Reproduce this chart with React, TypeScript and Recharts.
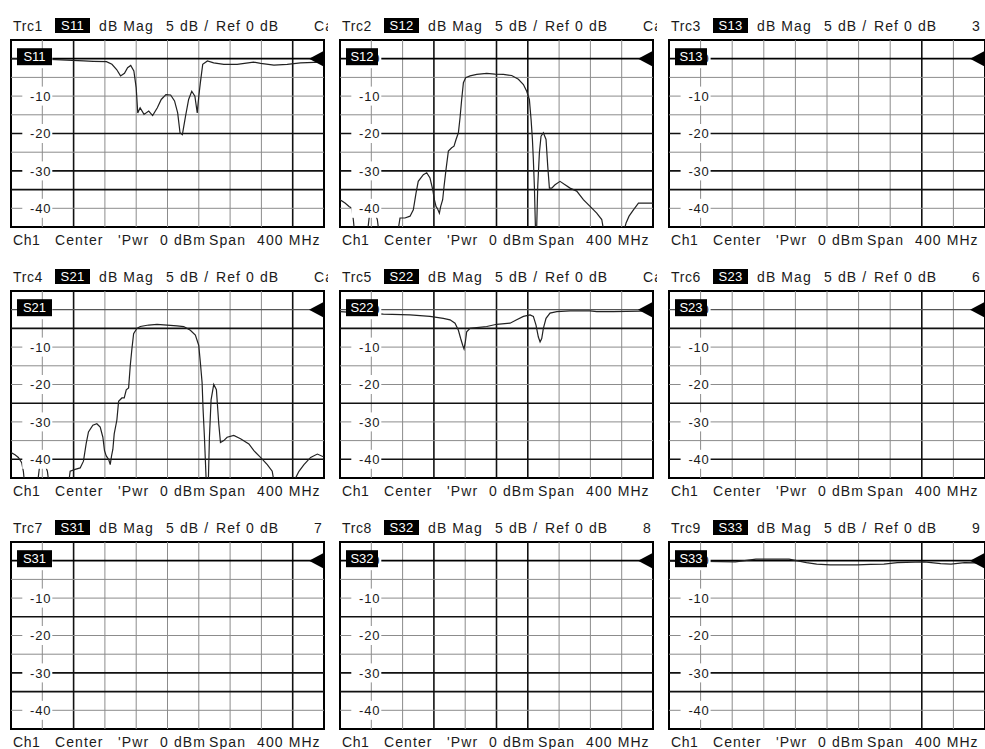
import React from 'react';
import { LineChart, Line, XAxis, YAxis, ReferenceLine, ReferenceDot, ReferenceArea } from 'recharts';

// --- data -------------------------------------------------------------
// frequency offset within the 400 MHz span, and magnitude in dB

const freqTicks = [0, 40, 80, 120, 160, 200, 240, 280, 320, 360, 400];
const dbTicks = [5, 0, -5, -10, -15, -20, -25, -30, -35, -40, -45];
const dbLabels = [0, -10, -20, -30, -40];

const traceNames = ['Trc1', 'Trc2', 'Trc3', 'Trc4', 'Trc5', 'Trc6', 'Trc7', 'Trc8', 'Trc9'];
const paramNames = ['S11', 'S12', 'S13', 'S21', 'S22', 'S23', 'S31', 'S32', 'S33'];
const titleTails = ['Cal', 'Cal', '3', 'Cal', 'Cal', '6', '7', '8', '9'];

const s11Freq = [0, 50, 71, 93, 105, 122, 129, 135, 140, 145, 149, 153, 157, 160, 162, 165, 170, 176, 181, 187, 192, 198, 204, 209, 213, 216, 219, 223, 227, 231, 235, 238, 240, 242, 245, 251, 259, 272, 289, 310, 319, 336, 353, 370, 396, 400];
const s11Db = [0, -0.2, -0.4, -0.6, -0.7, -0.8, -1.5, -2.9, -4.6, -3.9, -2.4, -1.8, -3.3, -7.8, -14.5, -13.1, -14.9, -14, -15.2, -13.1, -10.9, -9.6, -9.7, -11.3, -14.5, -19.8, -20.3, -15.4, -10.9, -8.7, -10, -14.5, -10, -6.4, -1.5, -0.6, -1.1, -1.5, -1.5, -0.9, -1.25, -1.7, -1.5, -1.1, -0.9, -0.8];

const s12Freq = [0, 6.4, 11.9, 14.9, 17, 18.7, 25.6, 35, 37.5, 40.5, 44.7, 47.7, 49.9, 60, 73.7, 76.7, 83, 89.5, 93.7, 97.2, 100, 106.5, 110.8, 115, 118.5, 120.6, 122.7, 124.8, 127, 128.7, 131.2, 133, 135.5, 138.5, 142.7, 145.7, 148.3, 151.3, 153.4, 155.5, 157.7, 160.6, 166.2, 174.7, 187.5, 198, 208.8, 219.4, 228, 234.4, 238.6, 242, 244.2, 245.9, 247.1, 248.4, 249.7, 250.5, 251.4, 252.7, 254.8, 256.9, 259.9, 263.3, 265.5, 267.6, 270.6, 274.8, 281.2, 287.6, 294, 302.5, 311, 319.6, 328.1, 334.5, 337.5, 349, 362.2, 365.6, 369.4, 375, 381.4, 400];
const s12Db = [-37.7, -38.6, -39.6, -39.9, -43, -46.6, -50, -46.6, -42.1, -40.8, -41.3, -43, -46.6, -50, -46.6, -42.6, -42.6, -42.1, -40.4, -35.9, -32.8, -31, -30.5, -31.9, -35, -37.7, -39.5, -40.2, -41.3, -39.5, -37.7, -34.1, -29.6, -24.7, -23.8, -23.4, -21.6, -19.8, -15.8, -10.9, -6.4, -5.1, -4.6, -4.2, -3.9, -4.1, -4.2, -4.5, -5.5, -6.9, -8.7, -10.9, -16.3, -21.6, -27, -34.1, -44.8, -46.6, -44.8, -34.1, -25.2, -20.7, -19.8, -21.6, -28.8, -34.6, -34.6, -33.7, -32.8, -33.7, -34.6, -35.4, -37.7, -39.5, -41.3, -43, -46.6, -50, -46.6, -43.9, -42.1, -40.4, -38.6, -38.6];

const s21Freq = [0, 5.1, 9.4, 13.7, 15.8, 17.5, 24.3, 33.7, 36.3, 39.3, 43.5, 46.5, 48.7, 58.5, 73.4, 75.6, 82, 88.4, 92.6, 96, 99, 104.6, 109.7, 114, 117.4, 119.5, 121.7, 124.7, 126.8, 128.5, 130.2, 131.9, 135.3, 137.5, 141.7, 144.7, 147.3, 150.3, 152.4, 154.5, 156.7, 160.9, 165.2, 175.9, 186.6, 199.4, 212.2, 220.7, 229.2, 235.6, 239.9, 242, 244.2, 245.5, 247.2, 249.3, 250.6, 252.3, 253.6, 255.7, 259.1, 262.5, 265.5, 267.7, 271.9, 276.2, 284.7, 293.3, 304, 310.4, 318.9, 327.5, 333.8, 336.8, 348.8, 361.6, 363.7, 368, 374.4, 382.9, 391.5, 400];
const s21Db = [-38.2, -38.8, -39.5, -40.9, -43.2, -46.8, -50, -46.8, -42.3, -40.9, -41.5, -43.2, -46.8, -50, -46.8, -43.2, -42.7, -42.3, -40.5, -35.9, -32.7, -30.9, -30.5, -31.4, -34.1, -37.7, -39.1, -40, -41.4, -39.1, -37.3, -33.2, -29.5, -24.5, -23.6, -23.6, -21.4, -20.9, -15, -10.5, -6.4, -5, -4.5, -4.1, -3.9, -4.1, -4.3, -4.5, -5.5, -6.8, -9.5, -14.1, -19.5, -26.8, -34.1, -45, -46.8, -45, -34.1, -24.1, -20, -21.4, -30.5, -35.5, -35, -34.1, -33.6, -34.5, -35.9, -37.7, -39.5, -41.4, -43.2, -46.8, -50, -46.8, -45, -43.2, -41.4, -39.5, -38.6, -39.4];

const s22Freq = [0, 29.8, 55.4, 89.5, 115, 132, 140.6, 147, 151.3, 154.2, 156.8, 158.5, 160.2, 161.9, 166.2, 174.7, 187.5, 200.3, 217.3, 225.8, 234.4, 242.9, 247.1, 250.5, 253.5, 255.7, 257.8, 259.9, 263.3, 268.4, 277, 294, 319.6, 328.1, 349.4, 400];
const s22Db = [-0.5, -0.9, -1.2, -1.4, -1.8, -2.3, -2.7, -3.6, -5.5, -7.7, -9.5, -10.5, -8.6, -5.9, -5, -4.8, -4.5, -3.9, -3.6, -2.7, -1.8, -1.4, -1.8, -4.1, -7.3, -8.6, -7.7, -5, -2.3, -0.9, -0.5, -0.3, -0.3, -0.5, -0.5, -0.3];

const s33Freq = [0, 46, 84, 110, 152, 174, 187, 204, 238, 255, 272, 289, 323, 344, 357, 374, 395, 400];
const s33Db = [-0.1, -0.2, -0.3, 0.4, 0.4, -0.5, -0.9, -1.1, -1.1, -1, -0.9, -0.5, -0.3, -0.8, -0.9, -0.5, -0.6, -0.6];

type Pt = { f: number; db?: number };
const zip = (fs: number[], ds: number[]): Pt[] => fs.map((f, i) => ({ f, db: ds[i] }));

const traces: Record<string, Pt[]> = {
  S11: zip(s11Freq, s11Db),
  S12: zip(s12Freq, s12Db),
  S21: zip(s21Freq, s21Db),
  S22: zip(s22Freq, s22Db),
  S33: zip(s33Freq, s33Db),
};

// panels without a trace still need rows for the chart to lay out
const emptyRows: Pt[] = freqTicks.map((f) => ({ f }));

// --- layout -----------------------------------------------------------

const FONT = '"Liberation Sans", Arial, Helvetica, sans-serif';
const COL_X = [11, 340, 669];
const ROW_Y = [40, 291, 542];
const COL_W = [313, 313, 316];
const PLOT_H = 187;
const PAD = 2;
const GRID = '#8c8c8c';
const INK = '#111';

// grid lines that come out heavier on the screen dump
const darkCols = [[2, 9], [3, 5, 6], [8]];
const darkRows = [[-20, -30, -35], [-5, -25, -40], [-15, -30, -35]];
const refHeavy = [true, false, true];
const badgeW = [35, 32, 32];

const txt: React.CSSProperties = {
  position: 'absolute',
  fontFamily: FONT,
  fontSize: 14,
  letterSpacing: 1.1,
  color: '#1a1a1a',
  whiteSpace: 'nowrap',
  lineHeight: '16px',
};

function Panel({ idx }: { idx: number }) {
  const row = Math.floor(idx / 3);
  const col = idx % 3;
  const w = COL_W[col];
  const left = COL_X[col];
  const top = ROW_Y[row];
  const name = paramNames[idx];
  const trace = traces[name];
  const vLines = freqTicks.slice(1, -1);
  const hLines = dbTicks.slice(2, -1);

  return (
    <>
      <div style={{ position: 'absolute', left, top: top - 22, width: w + 4, height: 16, overflow: 'hidden' }}>
        <span style={{ ...txt, left: 2, top: 0, letterSpacing: 0.6 }}>{traceNames[idx]}</span>
        <span
          style={{
            ...txt,
            left: 44,
            top: 0,
            width: 35,
            height: 15,
            background: '#000',
            color: '#fff',
            fontSize: 13,
            letterSpacing: 0.3,
            textAlign: 'center',
            lineHeight: '15px',
          }}
        >
          {name}
        </span>
        <span style={{ ...txt, left: 88, top: 0 }}>dB Mag</span>
        <span style={{ ...txt, left: 155, top: 0 }}>5 dB /</span>
        <span style={{ ...txt, left: 205, top: 0 }}>Ref 0 dB</span>
        <span style={{ ...txt, left: 303, top: 0 }}>{titleTails[idx]}</span>
      </div>

      <div style={{ position: 'absolute', left: left - PAD, top: top - PAD }}>
        <LineChart
          width={w + PAD * 2}
          height={PLOT_H + PAD * 2}
          margin={{ top: PAD, right: PAD, bottom: PAD, left: PAD }}
          data={trace ?? emptyRows}
        >
          <XAxis type="number" dataKey="f" domain={[0, 400]} ticks={freqTicks} hide allowDataOverflow />
          <YAxis type="number" domain={[-45, 5]} ticks={dbTicks} hide allowDataOverflow />

          {vLines.map((f, i) => (
            <ReferenceLine
              key={'v' + f}
              x={f}
              stroke={darkCols[col].includes(i + 1) ? INK : GRID}
              strokeWidth={darkCols[col].includes(i + 1) ? 1.6 : 1}
            />
          ))}
          {hLines.map((d) => (
            <ReferenceLine
              key={'h' + d}
              y={d}
              stroke={darkRows[row].includes(d) ? INK : GRID}
              strokeWidth={darkRows[row].includes(d) ? 1.6 : 1}
            />
          ))}
          <ReferenceLine
            y={0}
            stroke={refHeavy[row] ? '#000' : '#555'}
            strokeWidth={refHeavy[row] ? 1.8 : 1.2}
          />

          {dbLabels.map((d) => (
            <ReferenceDot
              key={'l' + d}
              x={40}
              y={d}
              r={0}
              shape={(p: any) => (
                <g>
                  <rect x={p.cx - 20} y={p.cy - 9.5} width={30} height={19} fill="#fff" />
                  <text
                    x={p.cx + 9}
                    y={p.cy}
                    dy="0.36em"
                    textAnchor="end"
                    fontFamily={FONT}
                    fontSize={13}
                    letterSpacing={0.8}
                    fill="#1a1a1a"
                  >
                    {d === 0 ? '0' : String(d)}
                  </text>
                </g>
              )}
            />
          ))}

          {trace && (
            <Line
              dataKey="db"
              type="linear"
              dot={false}
              stroke="#222"
              strokeWidth={1.2}
              isAnimationActive={false}
            />
          )}

          <ReferenceArea x1={0} x2={400} y1={-45} y2={5} fill="none" stroke="#000" strokeWidth={2} />

          {/* trace badge on the reference line */}
          <ReferenceDot
            x={0}
            y={0}
            r={0}
            shape={(p: any) => (
              <g>
                <rect x={p.cx + 6} y={p.cy - 10.5} width={badgeW[col]} height={17} fill="#000" />
                <text
                  x={p.cx + 6 + badgeW[col] / 2}
                  y={p.cy - 2}
                  dy="0.36em"
                  textAnchor="middle"
                  fontFamily={FONT}
                  fontSize={13}
                  fill="#fff"
                >
                  {name}
                </text>
              </g>
            )}
          />
          {/* reference level marker */}
          <ReferenceDot
            x={400}
            y={0}
            r={0}
            shape={(p: any) => (
              <polygon points={`${p.cx},${p.cy - 8} ${p.cx - 15},${p.cy} ${p.cx},${p.cy + 8}`} fill="#000" />
            )}
          />
        </LineChart>
      </div>

      <div style={{ position: 'absolute', left, top: top + PLOT_H + 5, width: w + 4, height: 17, overflow: 'hidden' }}>
        <span style={{ ...txt, left: 2, top: 0, letterSpacing: 0.6 }}>Ch1</span>
        <span style={{ ...txt, left: 44, top: 0 }}>Center</span>
        <span style={{ ...txt, left: 107, top: 0 }}>'Pwr</span>
        <span style={{ ...txt, left: 149, top: 0 }}>0 dBm</span>
        <span style={{ ...txt, left: 198, top: 0 }}>Span</span>
        <span style={{ ...txt, left: 246, top: 0 }}>400 MHz</span>
      </div>
    </>
  );
}

export default function App() {
  return (
    <div
      style={{
        position: 'absolute',
        left: 0,
        top: 0,
        width: 985,
        height: 749,
        overflow: 'hidden',
        background: '#fff',
      }}
    >
      {paramNames.map((_, i) => (
        <Panel key={i} idx={i} />
      ))}
    </div>
  );
}
